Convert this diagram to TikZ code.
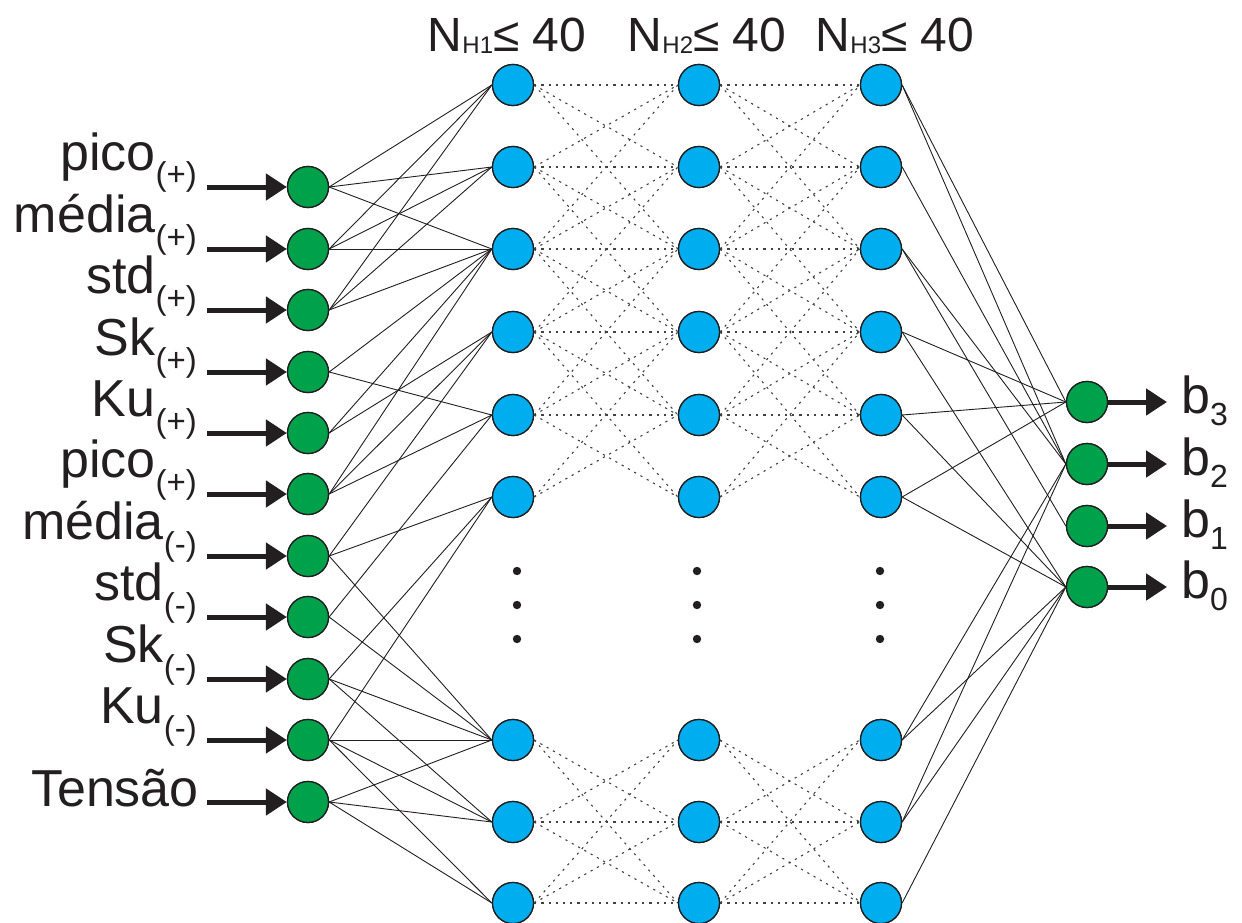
\documentclass[tikz,border=0pt]{standalone}
\usepackage{fontspec}
\setmainfont{Liberation Sans}
\usetikzlibrary{arrows.meta}
\definecolor{ngreen}{HTML}{00A14B}
\definecolor{nblue}{HTML}{00AEEF}
\definecolor{nink}{HTML}{231F20}
\newcommand{\inlab}[2]{#1\raisebox{-16pt}{\fontsize{33}{33}\selectfont #2}}
\newcommand{\outlab}[1]{b\raisebox{-12pt}{\fontsize{32}{32}\selectfont #1}}
\newcommand{\toplab}[1]{N\raisebox{-2pt}{\fontsize{24}{24}\selectfont #1}≤ 40}
\begin{document}
\begin{tikzpicture}[x=1pt,y=-1pt,
  innode/.style={circle,draw=nink,line width=1.3pt,fill=ngreen,minimum size=41pt,inner sep=0pt},
  hidnode/.style={circle,draw=nink,line width=1.3pt,fill=nblue,minimum size=41pt,inner sep=0pt},
  conn/.style={line width=0.9pt,draw=nink},
  dotc/.style={line width=1.1pt,draw=nink!85,dash pattern=on 2.2pt off 5pt},
  fatarrow/.style={line width=5pt,draw=nink,-{Triangle[length=21pt,width=26pt]}},
  lab/.style={inner sep=0pt,font=\fontsize{52}{52}\selectfont,text=nink},
  toplabel/.style={inner sep=0pt,font=\fontsize{48}{48}\selectfont,text=nink}]
\useasboundingbox (0,0) rectangle (1242,923);
\fill[white] (0,0) rectangle (1242,923);
% input nodes
\foreach \k/\y in {1/187,2/249,3/310,4/372,5/433,6/494,7/556,8/617,9/679,10/740,11/802}{
  \node[innode] (i\k) at (308,\y) {};
  \coordinate (s\k) at (207,\y);
}
% hidden layers
\foreach \k/\y in {1/85,2/167,3/249,4/332,5/415,6/497,7/740,8/822,9/903}{
  \node[hidnode] (a\k) at (513,\y) {};
  \node[hidnode] (b\k) at (699,\y) {};
  \node[hidnode] (c\k) at (881,\y) {};
}
% output nodes
\foreach \k/\y in {3/402,2/464,1/526,0/587}{
  \node[innode] (o\k) at (1087,\y) {};
  \coordinate (t\k) at (1167,\y);
}
% dotted hidden-hidden connections
\foreach \p/\q in {1/1,1/2,1/3,2/1,2/2,2/3,2/4,3/1,3/2,3/3,3/4,3/5,4/2,4/3,4/4,4/5,4/6,5/3,5/4,5/5,5/6,6/4,6/5,7/8,7/9,8/7,8/8,8/9,9/7,9/8,9/9}{
  \draw[dotc] (a\p.east) -- (b\q.west);
  \draw[dotc] (b\p.east) -- (c\q.west);
}
% input to hidden 1
\foreach \s/\t in {1/1,1/2,1/3,2/1,2/2,2/3,3/1,3/2,3/3,4/3,4/5,5/3,5/4,6/3,6/4,6/5,7/4,7/6,7/7,8/5,8/7,9/6,9/7,9/8,10/6,10/7,10/8,10/9,11/7,11/8,11/9}{
  \draw[conn] (i\s.east) -- (a\t.west);
}
% hidden 3 to output
\foreach \s/\t in {1/3,1/2,2/2,3/2,3/1,4/3,4/0,5/3,5/0,6/3,6/0,7/2,7/0,8/2,8/0,9/0}{
  \draw[conn] (c\s.east) -- (o\t.west);
}
% redraw nodes on top
\foreach \k/\y in {1/187,2/249,3/310,4/372,5/433,6/494,7/556,8/617,9/679,10/740,11/802}{
  \node[innode] at (308,\y) {};
}
\foreach \k/\y in {1/85,2/167,3/249,4/332,5/415,6/497,7/740,8/822,9/903}{
  \node[hidnode] at (513,\y) {};
  \node[hidnode] at (699,\y) {};
  \node[hidnode] at (881,\y) {};
}
\foreach \k/\y in {3/402,2/464,1/526,0/587}{
  \node[innode] at (1087,\y) {};
}
% ellipsis dots
\foreach \x in {517,697,880}{
  \foreach \y in {571,605,639}{
    \fill[nink] (\x,\y) circle (4.2);
  }
}
% input arrows
\foreach \k in {1,...,11}{
  \draw[fatarrow] (s\k) -- (i\k.west);
}
% output arrows
\foreach \k in {3,2,1,0}{
  \draw[fatarrow] (o\k.east) -- (t\k);
}
% input labels
\node[lab,anchor=base east] (l1) at (197,170) {\inlab{pico}{(+)}};
\node[lab,anchor=base east] (l2) at (197,232) {\inlab{média}{(+)}};
\node[lab,anchor=base east] (l3) at (197,293) {\inlab{std}{(+)}};
\node[lab,anchor=base east] (l4) at (197,355) {\inlab{Sk}{(+)}};
\node[lab,anchor=base east] (l5) at (197,416) {\inlab{Ku}{(+)}};
\node[lab,anchor=base east] (l6) at (197,477) {\inlab{pico}{(+)}};
\node[lab,anchor=base east] (l7) at (197,539) {\inlab{média}{(-)}};
\node[lab,anchor=base east] (l8) at (197,600) {\inlab{std}{(-)}};
\node[lab,anchor=base east] (l9) at (197,662) {\inlab{Sk}{(-)}};
\node[lab,anchor=base east] (l10) at (197,723) {\inlab{Ku}{(-)}};
\node[lab,anchor=base east] (l11) at (199,806) {Tensão};
% output labels
\node[lab,anchor=base west] (m3) at (1181,413) {\outlab{3}};
\node[lab,anchor=base west] (m2) at (1181,475) {\outlab{2}};
\node[lab,anchor=base west] (m1) at (1181,537) {\outlab{1}};
\node[lab,anchor=base west] (m0) at (1181,598) {\outlab{0}};
% layer labels
\node[toplabel,anchor=base] (n1) at (507,52) {\toplab{H1}};
\node[toplabel,anchor=base] (n2) at (707,52) {\toplab{H2}};
\node[toplabel,anchor=base] (n3) at (895,52) {\toplab{H3}};
\end{tikzpicture}
\end{document}
